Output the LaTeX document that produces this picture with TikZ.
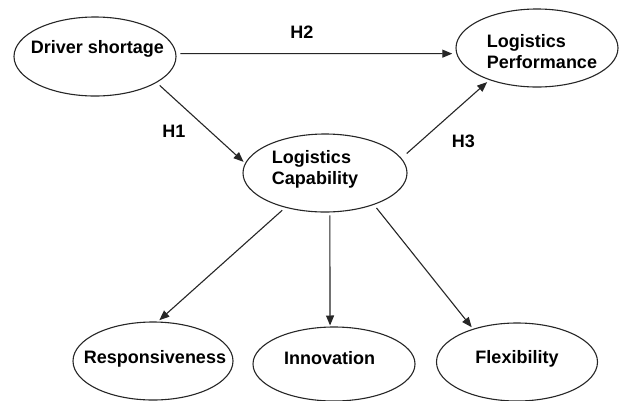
\documentclass[tikz,border=0pt]{standalone}
\usepackage{fontspec}
\setmainfont{Liberation Sans}
\usetikzlibrary{shapes.geometric,arrows.meta}
\newcommand{\txtat}[3]{\raisebox{#2}[0pt][0pt]{\makebox[0pt]{\kern#1\kern#1#3}}}
\begin{document}
\begin{tikzpicture}[x=1pt,y=-1pt,
  ell/.style={ellipse,draw=black!85,line width=1.1pt,inner sep=0pt,
    font=\bfseries\fontsize{18}{21.6}\selectfont},
  arr/.style={-{Triangle[length=10pt,width=8pt]},line width=1.1pt,draw=black!85},
  hyp/.style={font=\bfseries\fontsize{18}{21.6}\selectfont,inner sep=0pt}]
\useasboundingbox[fill=white] (0,0) rectangle (622,400);
\node[ell,minimum width=162pt,minimum height=79pt] (ds) at (95,56.5)
  {\txtat{2.5pt}{3.5pt}{Driver shortage}};
\node[ell,minimum width=162pt,minimum height=78pt] (lp) at (537,48)
  {\txtat{5pt}{1pt}{\begin{tabular}[t]{@{}l@{}}Logistics\\Performance\end{tabular}}};
\node[ell,minimum width=164pt,minimum height=78pt] (lc) at (325,173)
  {\txtat{-10pt}{10pt}{\begin{tabular}[t]{@{}l@{}}Logistics\\Capability\end{tabular}}};
\node[ell,minimum width=160pt,minimum height=78pt] (re) at (153,361)
  {\txtat{2pt}{-2.5pt}{Responsiveness}};
\node[ell,minimum width=162pt,minimum height=74pt] (in) at (334,364)
  {\txtat{-4.5pt}{-0.5pt}{Innovation}};
\node[ell,minimum width=161pt,minimum height=78pt] (fl) at (517,362)
  {\txtat{0pt}{-1.5pt}{Flexibility}};
\draw[arr,shorten <=4pt,shorten >=4pt] (ds.2) -- (lp.184);
\draw[arr,shorten <=4pt,shorten >=2pt] (ds.-23) -- (lc.173);
\draw[arr,shorten <=7pt,shorten >=3pt] (lc.11) -- (lp.214);
\draw[arr,shorten <=4pt,shorten >=2pt] (lc.221) -- (re.83);
\draw[arr,shorten <=3pt,shorten >=1pt] (lc.-83) -- (in.96);
\draw[arr,shorten <=4pt,shorten >=2pt] (lc.-33) -- (fl.143);
\node[hyp] (h2) at (302,32.5) {H2};
\node[hyp] (h1) at (174,131) {H1};
\node[hyp] (h3) at (463.5,141.5) {H3};
\end{tikzpicture}
\end{document}
